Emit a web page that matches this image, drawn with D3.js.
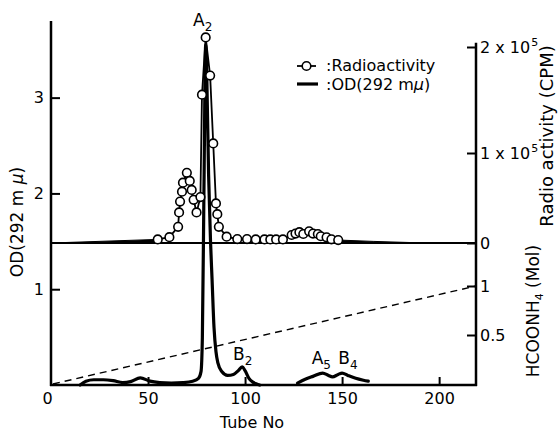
<!DOCTYPE html>
<html><head><meta charset="utf-8">
<script src="https://cdn.jsdelivr.net/npm/d3@7"></script>
<style>
body{margin:0;background:#fff}
svg{display:block}
text{font-family:"DejaVu Sans",sans-serif;fill:#000}
</style>
</head><body>
<svg id="c" width="559" height="434"></svg>
<script>
// ---------- data ----------
const tubeTicks = [0, 50, 100, 150, 200];
const odTicks = [1, 2, 3];
const radioTicks = [0, 100000, 200000];
const radioTickLabels = [["0", ""], ["1 x 10", "5"], ["2 x 10", "5"]];
const saltTicks = [0.5, 1];
const saltTickLabels = ["0.5", "1"];

// OD (292 mμ) trace, main region
const odTube1 = [15, 18, 22, 27, 32, 37, 41, 46, 51, 56, 62, 68, 73, 76, 77.3, 78, 78.8, 79.7, 80.3, 81.2, 82.2, 83, 84, 85, 86, 88, 91, 94, 96.5, 98.5, 100, 102, 104, 106, 107.5];
const odValue1 = [0.0, 0.04, 0.055, 0.055, 0.045, 0.025, 0.035, 0.075, 0.04, 0.025, 0.02, 0.025, 0.04, 0.07, 0.14, 0.5, 2.0, 3.55, 3.2, 2.2, 1.5, 1.1, 0.6, 0.35, 0.23, 0.14, 0.1, 0.11, 0.15, 0.19, 0.15, 0.07, 0.03, 0.01, 0.0];
// OD trace, A5 B4 region
const odTube2 = [127, 131, 135, 140, 143, 145, 148, 150, 153, 157, 161, 163.5];
const odValue2 = [0.02, 0.06, 0.09, 0.125, 0.1, 0.085, 0.11, 0.125, 0.1, 0.07, 0.05, 0.04];

// Radioactivity (CPM), measured points
const radioTube = [55, 61, 65.5, 66, 66.5, 67.5, 68, 70, 71.5, 72.5, 73.5, 75, 77, 77.8, 79.7, 82, 83.6, 85, 85.7, 86.5, 90.5, 96, 101, 105.5, 110, 113, 116, 119.5, 124, 126, 128, 130, 133, 135, 137.5, 139, 142, 144.5, 148];
const radioValue = [4000, 6500, 18000, 34000, 46000, 57000, 67000, 78000, 69000, 59000, 48000, 34000, 51000, 155000, 209000, 173000, 109000, 44000, 32000, 18000, 7000, 4400, 4400, 4000, 4000, 4000, 4000, 4000, 8900, 10500, 12000, 10000, 13000, 10500, 10000, 7500, 6300, 4100, 3300];
// Radioactivity tails (no markers)
const radioTailTube1 = [0, 55];
const radioTailValue1 = [0, 4000];
const radioTailTube2 = [148, 166, 193];
const radioTailValue2 = [3300, 1800, 0];

// HCOONH4 gradient (Mol)
const saltTube = [1, 219];
const saltValue = [0, 1.0];

// peak labels
const peakNames = ["A", "B", "A", "B"];
const peakSubs = ["2", "2", "5", "4"];
const peakTube = [73.2, 93.8, 134.3, 148];
const peakOD = [3.75, 0.26, 0.22, 0.22];

// ---------- scales ----------
const svg = d3.select("#c");
const x = d3.scaleLinear().domain([0, 219]).range([51, 476]);
const yOD = d3.scaleLinear().domain([0, 3.8]).range([385, 21]);
const yRadio = d3.scaleLinear().domain([0, 100000, 200000]).range([243, 153, 47]);
const ySalt = d3.scaleLinear().domain([0, 1]).range([384, 286]);

const fs = 16;

// ---------- gradient (dashed) ----------
svg.append("path")
  .attr("d", d3.line().x((d, i) => x(saltTube[i])).y((d, i) => ySalt(saltValue[i]))(saltTube))
  .attr("fill", "none").attr("stroke", "#000").attr("stroke-width", 1.4)
  .attr("stroke-dasharray", "7,5");

// ---------- radioactivity baseline ----------
svg.append("line")
  .attr("x1", x(0)).attr("x2", x(219))
  .attr("y1", yRadio(0)).attr("y2", yRadio(0))
  .attr("stroke", "#000").attr("stroke-width", 2);

// tails as wedges
function tail(tubes, vals) {
  svg.append("path")
    .attr("d", d3.area().x((d, i) => x(tubes[i])).y0(yRadio(0)).y1((d, i) => yRadio(vals[i]))(tubes))
    .attr("fill", "#000").attr("stroke", "#000").attr("stroke-width", 1);
}
tail(radioTailTube1, radioTailValue1);
tail(radioTailTube2, radioTailValue2);

// ---------- OD trace ----------
function odLine(tubes, vals) {
  svg.append("path")
    .attr("d", d3.line().curve(d3.curveMonotoneX)
      .x((d, i) => x(tubes[i])).y((d, i) => yOD(vals[i]))(tubes))
    .attr("fill", "none").attr("stroke", "#000").attr("stroke-width", 3.2)
    .attr("stroke-linejoin", "round").attr("stroke-linecap", "round");
}
odLine(odTube1, odValue1);
odLine(odTube2, odValue2);

// ---------- radioactivity line + circles ----------
svg.append("path")
  .attr("d", d3.line().x((d, i) => x(radioTube[i])).y((d, i) => yRadio(radioValue[i]))(radioTube))
  .attr("fill", "none").attr("stroke", "#000").attr("stroke-width", 1.8);
svg.append("g").selectAll("circle").data(radioTube).join("circle")
  .attr("cx", (d, i) => x(d)).attr("cy", (d, i) => yRadio(radioValue[i]))
  .attr("r", 4.3).attr("fill", "#fff").attr("stroke", "#000").attr("stroke-width", 1.6);

// ---------- axes ----------
const axStroke = 2.5;
// left axis
const gL = svg.append("g").attr("transform", `translate(${x(0)},0)`)
  .call(d3.axisLeft(yOD).tickValues(odTicks).tickSizeInner(-9).tickSizeOuter(0).tickPadding(7).tickFormat(d3.format("d")));
gL.select(".domain").remove();
gL.selectAll(".tick line").attr("stroke-width", 2);
gL.selectAll("text").attr("font-size", fs).attr("font-family", "DejaVu Sans");
svg.append("line").attr("x1", x(0)).attr("x2", x(0)).attr("y1", yOD(0) + 1).attr("y2", yOD(3.8))
  .attr("stroke", "#000").attr("stroke-width", axStroke);

// bottom axis
const gB = svg.append("g").attr("transform", `translate(0,${yOD(0)})`)
  .call(d3.axisBottom(x).tickValues(tubeTicks).tickSizeInner(-8).tickSizeOuter(0).tickPadding(8).tickFormat(d3.format("d")));
gB.select(".domain").remove();
gB.selectAll(".tick line").attr("stroke-width", 2).filter(d => d === 0).remove();
gB.selectAll("text").attr("font-size", fs).attr("font-family", "DejaVu Sans")
  .attr("dx", d => d === 0 ? -4 : 0);
svg.append("line").attr("x1", x(0) - 1).attr("x2", x(219) + 1).attr("y1", yOD(0)).attr("y2", yOD(0))
  .attr("stroke", "#000").attr("stroke-width", axStroke);

// right axis (radioactivity + HCOONH4)
const gR = svg.append("g").attr("transform", `translate(${x(219)},0)`)
  .call(d3.axisRight(yRadio).tickValues(radioTicks).tickSizeInner(-9).tickSizeOuter(0).tickPadding(4).tickFormat(""));
gR.select(".domain").remove();
gR.selectAll(".tick line").attr("stroke-width", 2);
gR.selectAll(".tick text").each(function (d, i) {
  const t = d3.select(this).attr("font-size", fs).attr("font-family", "DejaVu Sans");
  t.append("tspan").text(radioTickLabels[i][0]);
  if (radioTickLabels[i][1]) t.append("tspan").attr("font-size", 11).attr("dy", "-0.6em").attr("dx", 1).text(radioTickLabels[i][1]);
});
const gS = svg.append("g").attr("transform", `translate(${x(219)},0)`)
  .call(d3.axisRight(ySalt).tickValues(saltTicks).tickSizeInner(-9).tickSizeOuter(0).tickPadding(4).tickFormat((d, i) => saltTickLabels[i]));
gS.select(".domain").remove();
gS.selectAll(".tick line").attr("stroke-width", 2);
gS.selectAll("text").attr("font-size", fs).attr("font-family", "DejaVu Sans");
svg.append("line").attr("x1", x(219)).attr("x2", x(219)).attr("y1", yOD(0) + 1).attr("y2", yRadio(204000))
  .attr("stroke", "#000").attr("stroke-width", axStroke);

// ---------- axis titles ----------
svg.append("text").attr("x", 252).attr("y", 428).attr("text-anchor", "middle").attr("font-size", 16).text("Tube No");

const tL = svg.append("text").attr("transform", "translate(23,222) rotate(-90)")
  .attr("text-anchor", "middle").attr("font-size", 17);
tL.append("tspan").text("OD(292 m ");
tL.append("tspan").attr("font-style", "italic").text("μ");
tL.append("tspan").text(")");

svg.append("text").attr("transform", "translate(553,136) rotate(-90)")
  .attr("text-anchor", "middle").attr("font-size", 18).text("Radio activity (CPM)");

const tS = svg.append("text").attr("transform", "translate(539,311) rotate(-90)")
  .attr("text-anchor", "middle").attr("font-size", 17);
tS.append("tspan").text("HCOONH");
tS.append("tspan").attr("font-size", 11).attr("dy", 4).text("4");
tS.append("tspan").attr("dy", -4).text(" (Mol)");

// ---------- peak labels ----------
peakNames.forEach((n, i) => {
  const t = svg.append("text").attr("x", x(peakTube[i])).attr("y", yOD(peakOD[i])).attr("font-size", 17);
  t.append("tspan").text(n);
  t.append("tspan").attr("font-size", 12).attr("dy", 5).text(peakSubs[i]);
});

// ---------- legend ----------
const lg = svg.append("g");
lg.append("line").attr("x1", 297).attr("x2", 316).attr("y1", 66).attr("y2", 66).attr("stroke", "#000").attr("stroke-width", 1.8);
lg.append("circle").attr("cx", 306.5).attr("cy", 66).attr("r", 4.3).attr("fill", "#fff").attr("stroke", "#000").attr("stroke-width", 1.6);
lg.append("text").attr("x", 326).attr("y", 71).attr("font-size", 16).text(":Radioactivity");
lg.append("line").attr("x1", 297).attr("x2", 318).attr("y1", 84).attr("y2", 84).attr("stroke", "#000").attr("stroke-width", 3.2);
const lt = lg.append("text").attr("x", 326).attr("y", 90).attr("font-size", 16);
lt.append("tspan").text(":OD(292 m");
lt.append("tspan").attr("font-style", "italic").text("μ");
lt.append("tspan").text(")");
</script>
</body></html>
